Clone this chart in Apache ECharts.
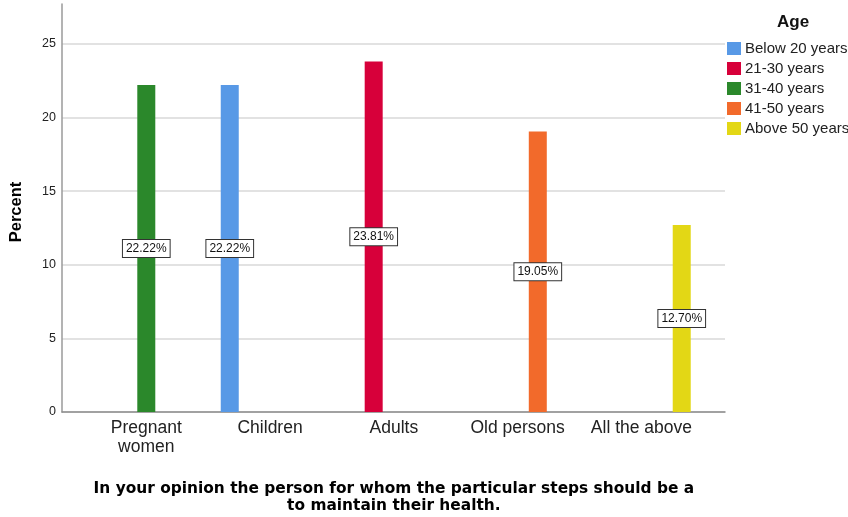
<!DOCTYPE html>
<html>
<head>
<meta charset="utf-8">
<script src="https://cdn.jsdelivr.net/npm/echarts@6/dist/echarts.min.js"></script>
<style>html,body{margin:0;padding:0;background:#fff}#c{width:848px;height:517px}</style>
</head>
<body>
<div id="c"></div>
<script>
const categories = ['Pregnant\nwomen', 'Children', 'Adults', 'Old persons', 'All the above'];
const seriesNames = ['Below 20 years', '21-30 years', '31-40 years', '41-50 years', 'Above 50 years'];
const below20 = [null, 22.22, null, null, null];
const age21to30 = [null, null, 23.81, null, null];
const age31to40 = [22.22, null, null, null, null];
const age41to50 = [null, null, null, 19.05, null];
const above50 = [null, null, null, null, 12.70];
const yTicks = [0, 5, 10, 15, 20, 25];
const colors = ['#5899E6', '#D7003A', '#2B882B', '#F26A2B', '#E3D715'];
const seriesValues = [below20, age21to30, age31to40, age41to50, above50];

const FONT = '"Liberation Sans", Arial, sans-serif';
const WIDE = '"DejaVu Sans", sans-serif';
const yMax = 27.72;

const chart = echarts.init(document.getElementById('c'));
chart.setOption({
  animation: false,
  textStyle: { fontFamily: FONT },
  color: colors,
  title: {
    text: 'Age', left: 772, top: 9,
    textStyle: { fontFamily: FONT, fontSize: 17, fontWeight: 'bold', color: '#111' }
  },
  legend: {
    orient: 'vertical', left: 727, top: 41, padding: 0,
    itemWidth: 14, itemHeight: 13, itemGap: 5, icon: 'rect',
    data: seriesNames,
    textStyle: { fontFamily: FONT, fontSize: 15, color: '#222', padding: [0, 0, 0, -1] }
  },
  grid: [
    { left: 62, right: 123, top: 4, bottom: 105, containLabel: false, outerBoundsMode: 'none' },
    { left: 84.4, right: 144.7, top: 4, bottom: 105, containLabel: false, outerBoundsMode: 'none' }
  ],
  xAxis: [
    { gridIndex: 0, type: 'value', min: 0, max: 1,
      axisLine: { show: true, lineStyle: { color: '#8c8c8c', width: 1.5 } },
      axisTick: { show: false }, axisLabel: { show: false }, splitLine: { show: false } },
    { gridIndex: 1, type: 'category', data: categories,
      axisLine: { show: false }, axisTick: { show: false },
      axisLabel: { fontFamily: FONT, fontSize: 17.5, color: '#222', margin: 7, lineHeight: 19, interval: 0 },
      name: 'In your opinion the person for whom the particular steps should be a\nto maintain their health.',
      nameLocation: 'middle', nameGap: 68,
      nameTextStyle: { fontFamily: WIDE, fontSize: 15.4, fontWeight: 'bold', color: '#000', lineHeight: 17 } }
  ],
  yAxis: [
    { gridIndex: 0, type: 'value', min: 0, max: yMax, interval: 5,
      axisLine: { show: true, lineStyle: { color: '#9a9a9a', width: 1.5 } },
      axisTick: { show: false },
      axisLabel: { fontFamily: FONT, fontSize: 12.5, color: '#222', margin: 6,
        formatter: v => (yTicks.indexOf(v) >= 0 ? String(v) : '') },
      splitLine: { show: true, lineStyle: { color: ['#d9d9d9', '#d9d9d9', '#d9d9d9', '#d9d9d9', '#d9d9d9', '#d9d9d9', 'rgba(0,0,0,0)'], width: 1.5 } },
      name: 'Percent', nameLocation: 'middle', nameGap: 37,
      nameTextStyle: { fontFamily: FONT, fontSize: 16.5, fontWeight: 'bold', color: '#000', padding: [0, 8, 0, 0] } },
    { gridIndex: 1, type: 'value', min: 0, max: yMax, interval: 5, show: false,
      splitLine: { show: false } }
  ],
  series: seriesNames.map((name, i) => ({
    name: name, type: 'bar', xAxisIndex: 1, yAxisIndex: 1,
    data: seriesValues[i], barWidth: 18, barGap: '12%',
    itemStyle: { color: colors[i] },
    label: {
      show: true, position: 'inside',
      formatter: p => p.value == null ? '' : p.value.toFixed(2) + '%',
      fontFamily: FONT, fontSize: 12, color: '#111',
      backgroundColor: '#fff', borderColor: '#333', borderWidth: 1, padding: [3, 3, 2, 3]
    }
  }))
});
</script>
</body>
</html>
